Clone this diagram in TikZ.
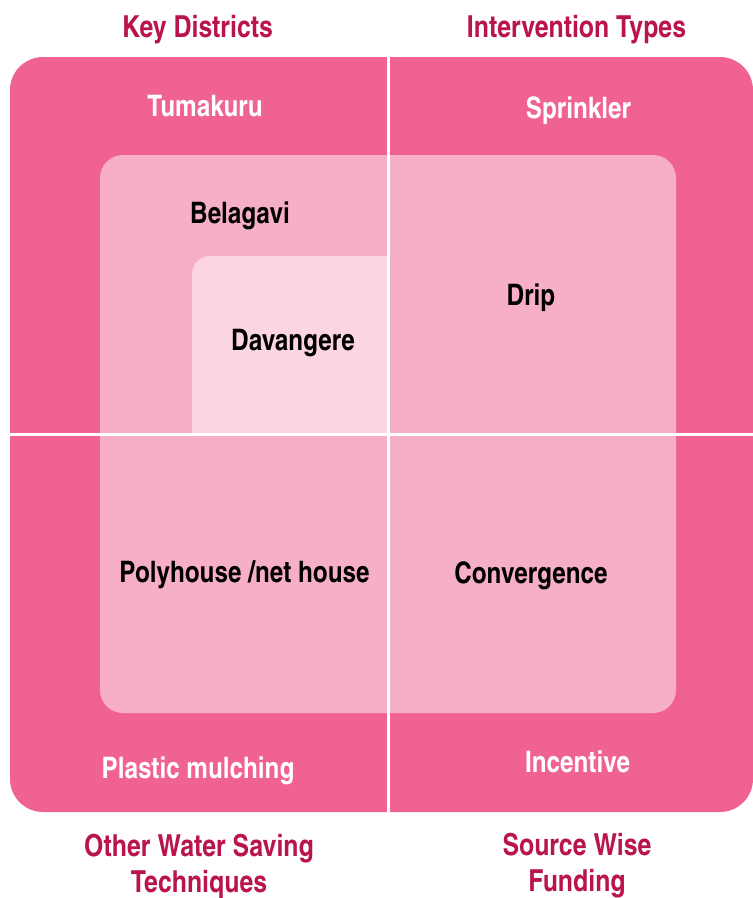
\documentclass[tikz,border=0pt]{standalone}
\usepackage{fontspec}
\setmainfont{texgyreheroscn}[Extension=.otf, UprightFont=*-regular, BoldFont=*-bold]
\usetikzlibrary{positioning}
\definecolor{kwdeep}{RGB}{240, 98, 146}
\definecolor{kwmid}{RGB}{247, 175, 199}
\definecolor{kwlite}{RGB}{251, 214, 226}
\definecolor{kwhead}{RGB}{186, 20, 78}
\tikzset{
  headlbl/.style={font=\bfseries\fontsize{30.3}{36}\selectfont, text=kwhead, align=center, inner sep=0pt},
  wlbl/.style={font=\bfseries\fontsize{29.6}{34}\selectfont, text=white, inner sep=0pt, anchor=base},
  blbl/.style={font=\bfseries\fontsize{29.6}{34}\selectfont, text=black, inner sep=0pt, anchor=base},
  divider/.style={white, line width=3pt},
}
\begin{document}
\begin{tikzpicture}[x=1pt, y=-1pt]
        \useasboundingbox (0,0) rectangle (753,898);
        % Nested panels
        \fill[kwdeep, rounded corners=33pt] (10,57) rectangle (753,812);
        \fill[kwmid, rounded corners=23pt] (100,155) rectangle (676,713);
        \begin{scope}
          \clip (0,0) rectangle (387,434);
          \fill[kwlite, rounded corners=18pt] (192,256) rectangle (430,480);
        \end{scope}
        \draw[divider] (388,57) -- (388,812);
        \draw[divider] (10,434) -- (753,434);

        % Headings
        \node[headlbl, anchor=base] (kd) at (197.5,37) {Key Districts};
        \node[headlbl, anchor=base] (it) at (576.5,37) {Intervention Types};
        \node[headlbl] (owst) at (199,866) {Other Water Saving\\Techniques};
        \node[headlbl] (swf) at (577,866) {Source Wise\\Funding};

        % Panel texts
        \node[wlbl] (tum) at (205,116) {Tumakuru};
        \node[wlbl] (spr) at (578.5,118) {Sprinkler};
        \node[blbl] (bel) at (240,223) {Belagavi};
        \node[blbl] (dav) at (293,350) {Davangere};
        \node[blbl] (drip) at (531,305) {Drip};
        \node[blbl] (poly) at (244.5,582) {Polyhouse /net house};
        \node[blbl] (conv) at (531,583) {Convergence};
        \node[wlbl] (plast) at (198,778) {Plastic mulching};
        \node[wlbl] (inc) at (577.5,772) {Incentive};
      \end{tikzpicture}
\end{document}
